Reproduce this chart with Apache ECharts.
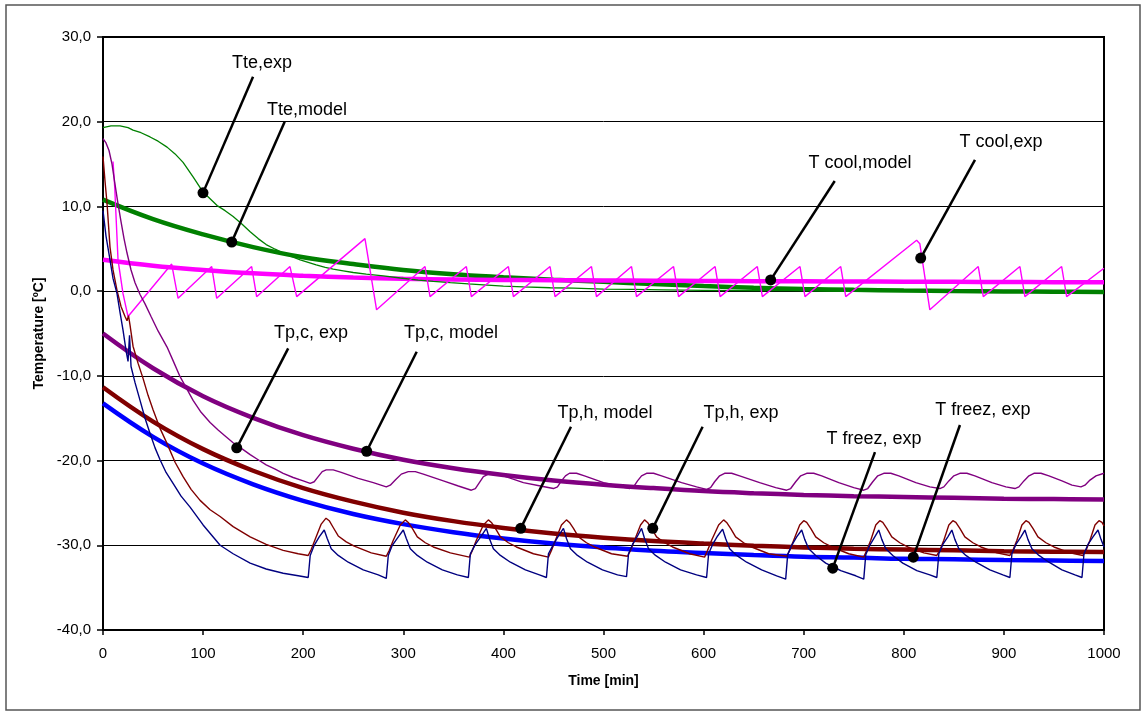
<!DOCTYPE html>
<html><head><meta charset="utf-8">
<script src="https://cdn.jsdelivr.net/npm/echarts@6/dist/echarts.min.js"></script>
<style>html,body{margin:0;padding:0;background:#fff}#c{width:1142px;height:711px}</style>
</head><body><div id="c"></div>
<script>
// ---------- DATA ----------
const xTicks = [0,100,200,300,400,500,600,700,800,900,1000];
const yTicks = [-40,-30,-20,-10,0,10,20,30];

// model curves (thick), sampled every 50 min
const modelTime = [0,50,100,150,200,250,300,350,400,450,500,550,600,650,700,750,800,850,900,950,1000];
const tteModel   = [10.8,8.5,6.7,5.2,4.0,3.2,2.5,2.0,1.65,1.35,1.1,0.85,0.6,0.4,0.25,0.15,0.08,0.02,-0.03,-0.07,-0.1];
const tcoolModel = [3.7,3.0,2.5,2.1,1.82,1.6,1.45,1.38,1.33,1.29,1.26,1.23,1.2,1.18,1.16,1.14,1.12,1.1,1.08,1.06,1.05];
const tpcModel   = [-5.0,-9.1,-12.4,-14.95,-17.0,-18.6,-19.9,-20.9,-21.7,-22.35,-22.85,-23.25,-23.6,-23.85,-24.05,-24.2,-24.3,-24.4,-24.5,-24.55,-24.6];
const tphModel   = [-11.35,-15.4,-18.65,-21.2,-23.25,-24.85,-26.15,-27.15,-27.95,-28.6,-29.1,-29.5,-29.8,-30.05,-30.25,-30.4,-30.5,-30.6,-30.7,-30.75,-30.8];
const tfrModel   = [-13.25,-17.2,-20.35,-22.8,-24.75,-26.3,-27.5,-28.45,-29.2,-29.8,-30.25,-30.65,-30.9,-31.15,-31.35,-31.45,-31.6,-31.65,-31.75,-31.8,-31.85];

// experimental curves (thin) [time, temperature]
const tteExp = [[0,19.3],[8,19.5],[17,19.5],[25,19.3],[30,19.0],[38,18.7],[47,18.2],[55,17.7],[64,17.0],[72,16.2],[80,15.2],[90,13.5],[100,11.7],[107,10.9],[114,10.1],[122,9.5],[130,8.8],[139,7.9],[147,7.0],[155,6.2],[163,5.5],[172,4.95],[180,4.5],[188,4.1],[197,3.7],[205,3.4],[213,3.1],[222,2.8],[230,2.6],[240,2.4],[250,2.2],[263,2.0],[280,1.8],[297,1.55],[315,1.3],[330,1.15],[347,1.0],[365,0.85],[380,0.75],[400,0.6],[420,0.5],[447,0.4],[470,0.35],[500,0.25],[530,0.2],[560,0.15],[600,0.1],[650,0.05],[700,0.05],[750,0.0],[800,0.0],[850,0.0],[900,-0.05],[950,-0.05],[1000,-0.05]];

const tcoolExp = [[10,15.3],[11.7,12.3],[15,3.7],[20,-0.3],[25,-3.0],[68.6,3.2],[75,-0.85],[108.6,2.9],[113.6,-0.85],[148.5,2.9],[153.5,-0.65],[186.8,2.9],[193.5,-0.65],[261.7,6.2],[273.3,-2.2],[321.7,2.9],[326.7,-0.65],[363,2.9],[368,-0.65],[405,2.9],[410,-0.65],[446.6,2.9],[451.6,-0.65],[488,2.9],[493,-0.65],[528,2.9],[533,-0.65],[570,2.9],[575,-0.65],[611.5,2.9],[616.5,-0.65],[653.7,2.9],[658.7,-0.65],[696.3,2.9],[701.3,-0.65],[737,2.9],[742,-0.65],[812.8,6.0],[816,5.6],[826,-2.2],[874.4,2.9],[879.4,-0.65],[916,2.9],[921,-0.65],[957.7,2.9],[962.7,-0.65],[1000,2.7]];

const tpcExp = [[0,18.0],[3,17.5],[6,16.6],[9,15.0],[12,12.6],[15,10.3],[18,8.2],[21,6.2],[24,4.5],[28,2.5],[32,1.0],[37,-0.4],[42,-1.5],[48,-3.0],[55,-4.7],[64,-6.6],[70,-8.2],[77,-10.1],[84,-11.6],[90,-12.9],[98,-14.3],[107,-15.5],[115,-16.4],[122,-17.1],[130,-17.9],[140,-18.7],[147,-19.3],[155,-19.9],[163,-20.5],[172,-21.0],[180,-21.5],[190,-22.0],[200,-22.4],
[207,-22.7],[211,-22.5],[215,-21.9],[219,-21.3],[223,-21.1],[230,-21.1],[238,-21.4],[255,-22.1],[270,-22.6],
[283,-23.1],[287,-22.9],[292,-22.3],[298,-21.6],[305,-21.3],[312,-21.3],[320,-21.6],[340,-22.4],[355,-23.0],
[368,-23.5],[372,-23.3],[376,-22.6],[380,-21.9],[385,-21.6],[392,-21.5],[400,-21.8],[420,-22.6],[437,-23.0],
[450,-23.3],[454,-23.1],[458,-22.4],[462,-21.8],[466,-21.5],[473,-21.5],[481,-21.8],[500,-22.6],[515,-23.0],
[526,-23.3],[530,-23.1],[534,-22.4],[538,-21.8],[543,-21.5],[550,-21.5],[558,-21.8],[578,-22.6],[593,-23.1],
[603,-23.4],[607,-23.2],[611,-22.5],[616,-21.8],[621,-21.5],[628,-21.5],[636,-21.8],[656,-22.6],[672,-23.2],
[683,-23.5],[687,-23.3],[692,-22.5],[697,-21.8],[703,-21.5],[710,-21.5],[718,-21.8],[735,-22.6],[750,-23.2],
[760,-23.5],[764,-23.3],[769,-22.5],[774,-21.8],[780,-21.5],[787,-21.5],[795,-21.8],[812,-22.6],[826,-23.1],
[836,-23.3],[840,-23.1],[845,-22.4],[850,-21.8],[856,-21.5],[863,-21.5],[871,-21.8],[888,-22.6],[902,-23.1],
[911,-23.3],[915,-23.1],[920,-22.4],[925,-21.8],[930,-21.5],[937,-21.5],[945,-21.8],[958,-22.4],[968,-22.9],
[977,-23.1],[981,-22.9],[986,-22.3],[992,-21.8],[1000,-21.5]];

const tphExp = [[0,15.9],[2,13.0],[4,10.4],[7,5.2],[10,2.5],[14,0.1],[18,-1.8],[22,-3.0],[24,-3.5],[25.5,-2.9],[27,-4.0],[30,-6.5],[35,-8.5],[40,-10.3],[45,-12.3],[50,-14.0],[57,-16.2],[64,-18.0],[72,-20.2],[80,-21.9],[88,-23.4],[97,-24.7],[107,-25.8],[117,-26.6],[130,-27.8],[147,-29.0],[163,-29.9],[180,-30.6],[195,-31.0],
[205,-31.2],[208,-30.5],[212,-29.3],[218,-27.5],[222.8,-26.8],[226,-27.1],[230,-27.9],[235,-28.9],[243,-29.6],[251,-30.1],[268,-30.9],
[283,-31.3],[286,-30.6],[290,-29.4],[297,-27.6],[302,-27.0],[305,-27.3],[309,-28.0],[314,-29.0],[322,-29.7],[330,-30.2],[347,-30.9],
[366,-31.4],[369,-30.6],[373,-29.4],[380,-27.6],[385,-27.0],[388,-27.3],[392,-28.0],[397,-29.0],[405,-29.7],[413,-30.2],[430,-31.0],
[445,-31.4],[448,-30.6],[452,-29.4],[458,-27.6],[463,-27.0],[466,-27.3],[470,-28.0],[475,-29.0],[483,-29.7],[491,-30.2],[508,-31.0],
[524,-31.3],[527,-30.6],[531,-29.4],[537,-27.6],[541,-27.0],[544,-27.3],[548,-28.0],[553,-29.0],[561,-29.7],[569,-30.2],[586,-31.0],
[601,-31.4],[604,-30.6],[608,-29.4],[615,-27.6],[620,-27.0],[623,-27.3],[627,-28.0],[632,-29.0],[640,-29.7],[648,-30.2],[665,-31.0],
[683,-31.3],[686,-30.6],[690,-29.4],[696,-27.6],[700,-27.1],[703,-27.3],[707,-28.0],[712,-29.0],[720,-29.7],[728,-30.2],[745,-31.0],
[760,-31.4],[763,-30.6],[767,-29.4],[772,-27.6],[776,-27.1],[779,-27.3],[783,-28.0],[788,-29.0],[796,-29.7],[804,-30.2],[820,-30.9],
[833,-31.2],[836,-30.6],[840,-29.4],[845,-27.6],[849,-27.1],[852,-27.3],[856,-28.0],[861,-29.0],[869,-29.7],[877,-30.2],[893,-30.9],
[906,-31.2],[909,-30.6],[913,-29.4],[918,-27.6],[922,-27.1],[925,-27.3],[929,-28.0],[934,-29.0],[942,-29.7],[950,-30.2],[966,-30.9],
[979,-31.2],[982,-30.6],[986,-29.4],[991,-27.6],[995,-27.1],[998,-27.3],[1000,-27.7]];

const tfrExp = [[0,9.5],[3,6.5],[7,3.7],[10,1.5],[14,-0.3],[17,-2.5],[20,-4.6],[23,-7.0],[25,-8.3],[26.5,-5.2],[28,-8.9],[32,-10.8],[37,-12.9],[42,-15.0],[47,-16.8],[52,-18.5],[57,-19.9],[63,-21.4],[70,-22.7],[78,-24.2],[87,-25.5],[100,-27.6],[117,-30.0],[130,-31.0],[147,-32.1],[163,-32.8],[180,-33.3],[195,-33.6],
[205,-33.8],[207,-31.2],[211,-30.0],[216,-29.0],[221,-28.2],[224,-29.2],[228,-30.4],[235,-31.2],[245,-32.0],[260,-32.9],[275,-33.5],
[283,-33.9],[285,-31.2],[289,-30.0],[295,-29.0],[300,-28.2],[303,-29.2],[307,-30.4],[314,-31.2],[324,-32.0],[339,-32.9],[354,-33.5],
[365,-33.8],[367,-31.0],[372,-29.9],[378,-28.9],[383,-28.0],[386,-29.2],[390,-30.4],[397,-31.2],[407,-32.0],[422,-32.9],[436,-33.5],
[443,-33.8],[445,-31.0],[450,-29.9],[455,-28.9],[460,-28.0],[463,-29.2],[467,-30.4],[474,-31.2],[484,-32.0],[499,-32.9],[514,-33.5],
[523,-33.7],[525,-31.0],[529,-29.9],[534,-28.9],[538,-28.0],[541,-29.2],[545,-30.4],[552,-31.2],[562,-32.0],[577,-32.9],[593,-33.5],
[603,-33.8],[605,-31.0],[609,-29.9],[614,-28.9],[619,-28.1],[622,-29.2],[626,-30.4],[633,-31.2],[643,-32.0],[658,-32.9],[673,-33.6],
[682,-34.0],[684,-31.1],[688,-30.0],[693,-29.0],[698,-28.2],[701,-29.3],[705,-30.4],[712,-31.2],[722,-32.1],[737,-33.0],[752,-33.6],
[760,-34.0],[762,-31.1],[766,-30.0],[771,-29.0],[775,-28.2],[778,-29.3],[782,-30.4],[789,-31.2],[799,-32.1],[813,-33.0],[826,-33.5],
[833,-33.8],[835,-31.0],[839,-29.9],[844,-29.0],[848,-28.2],[851,-29.3],[855,-30.4],[862,-31.2],[872,-32.0],[886,-32.9],[899,-33.5],
[906,-33.8],[908,-31.0],[912,-29.9],[917,-29.0],[921,-28.2],[924,-29.3],[928,-30.4],[935,-31.2],[945,-32.0],[958,-32.9],[971,-33.5],
[978,-33.8],[980,-31.0],[984,-29.9],[989,-29.0],[994,-28.2],[997,-29.3],[1000,-30.2]];

// annotation labels: text, text anchor, leader start, dot (data coordinates)
const annText  = ['Tte,exp','Tte,model','T cool,model','T cool,exp','Tp,c, exp','Tp,c, model','Tp,h, model','Tp,h, exp','T freez, exp','T freez, exp'];
const annTextAt = [[158.8,26.9],[203.8,21.4],[756.2,15.1],[897.1,17.6],[207.8,-4.95],[347.7,-4.95],[501.5,-14.4],[637.4,-14.4],[770.2,-17.5],[879,-14.0]];
const annFrom   = [[149.9,25.3],[181.5,20.0],[731,13.0],[871.1,15.5],[185,-6.75],[313.4,-7.15],[467.5,-16.0],[599,-16.0],[771.2,-19.0],[856.1,-15.8]];
const annDot    = [[99.9,11.6],[128.6,5.8],[667,1.33],[816.9,3.9],[133.6,-18.5],[263.4,-18.9],[417.3,-28.0],[549.2,-28.0],[729,-32.7],[809.5,-31.4]];

// ---------- CHART ----------
const FONT = '"Liberation Sans", Arial, sans-serif';
const chart = echarts.init(document.getElementById('c'));
const pair = vals => modelTime.map((t,i)=>[t, vals[i]]);
const thin = (name,data,color,w) => ({type:'line',name,data,symbol:'none',showSymbol:false,lineStyle:{color,width:w},z:4,silent:true});
const thick = (name,vals,color) => ({type:'line',name,data:pair(vals),symbol:'none',showSymbol:false,smooth:0.4,lineStyle:{color,width:4.5},z:3,silent:true});

const series = [
  thick('Tte,model', tteModel, '#008000'),
  thick('T cool,model', tcoolModel, '#FF00FF'),
  thick('Tp,c, model', tpcModel, '#800080'),
  thick('Tp,h, model', tphModel, '#800000'),
  thick('T freez, model', tfrModel, '#0000FF'),
  thin('Tte,exp', tteExp, '#008000', 1.3),
  thin('T cool,exp', tcoolExp, '#FF00FF', 1.4),
  thin('Tp,c, exp', tpcExp, '#800080', 1.4),
  thin('Tp,h, exp', tphExp, '#800000', 1.4),
  thin('T freez, exp', tfrExp, '#000080', 1.4)
];
annText.forEach((t,i)=>{
  series.push({type:'line',data:[{value:annFrom[i],symbolSize:0},{value:annDot[i],symbolSize:11}],
    symbol:'circle',showSymbol:true,itemStyle:{color:'#000',opacity:1},lineStyle:{color:'#000',width:2.5},z:10,silent:true});
});
series.push({type:'scatter',symbolSize:0,z:11,silent:true,itemStyle:{opacity:1,color:'#000'},
  data:annText.map((t,i)=>({name:t,value:annTextAt[i]})),
  label:{show:true,position:'inside',formatter:'{b}',color:'#000',opacity:1,fontSize:18,fontFamily:FONT,textBorderWidth:0,textBorderColor:'transparent'}});

chart.setOption({
  animation:false,
  backgroundColor:'#fff',
  textStyle:{fontFamily:FONT},
  grid:{left:103,right:38,top:37,bottom:81,show:true,borderColor:'#000',borderWidth:2,backgroundColor:'transparent'},
  xAxis:{type:'value',min:xTicks[0],max:xTicks[xTicks.length-1],interval:100,
    axisLine:{show:true,onZero:false,lineStyle:{color:'#000',width:2}},
    axisTick:{show:true,length:5,lineStyle:{color:'#000',width:1.5}},
    axisLabel:{color:'#000',fontSize:15,margin:16,fontFamily:FONT,formatter:v=>String(v)},
    splitLine:{show:false},
    name:'Time [min]',nameLocation:'middle',nameGap:44,
    nameTextStyle:{color:'#000',fontWeight:'bold',fontSize:14,fontFamily:FONT}},
  yAxis:{type:'value',min:yTicks[0],max:yTicks[yTicks.length-1],interval:10,
    axisLine:{show:true,lineStyle:{color:'#000',width:2}},
    axisTick:{show:true,length:6,lineStyle:{color:'#000',width:1.5}},
    axisLabel:{color:'#000',fontSize:15,margin:12,fontFamily:FONT,formatter:v=>v.toFixed(1).replace('.',',')},
    splitLine:{show:true,lineStyle:{color:'#000',width:1}},
    name:'Temperature [ºC]',nameLocation:'middle',nameGap:56,
    nameTextStyle:{color:'#000',fontWeight:'bold',fontSize:14,fontFamily:FONT}},
  graphic:[{type:'rect',silent:true,z:100,shape:{x:6,y:5,width:1134,height:705},style:{fill:null,stroke:'#555',lineWidth:1.5}}],
  series
});
</script></body></html>
